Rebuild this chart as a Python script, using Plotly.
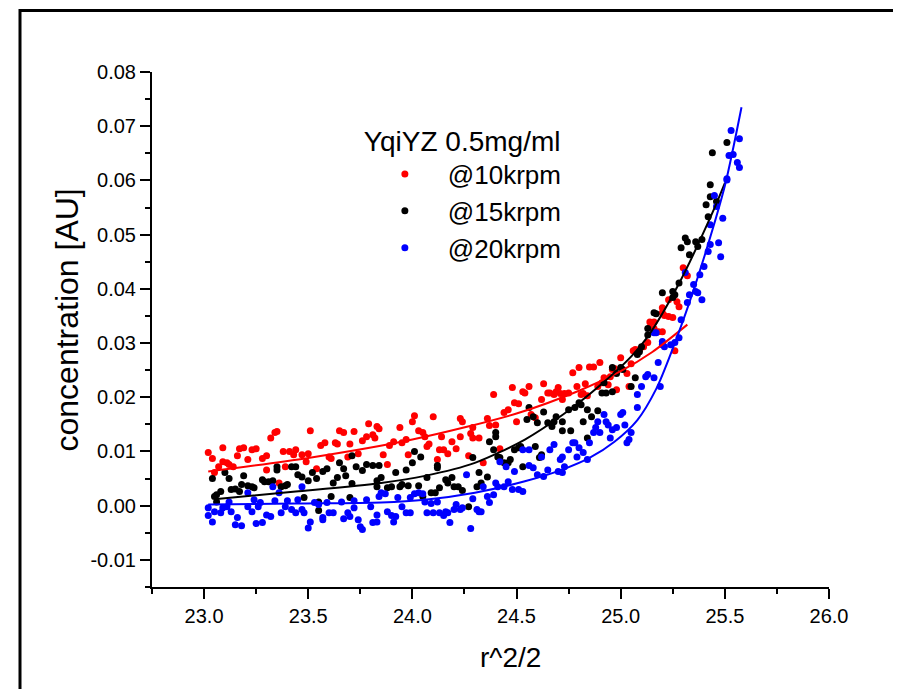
import plotly.graph_objects as go

# ---- data ----
red_x = [23.02,23.04,23.05,23.07,23.09,23.09,23.11,23.12,23.14,23.16,23.17,23.19,23.21,23.23,23.25,23.28,23.30,23.30,23.32,23.34,
         23.35,23.36,23.38,23.39,23.41,23.43,23.44,23.47,23.49,23.50,23.51,23.54,23.56,23.58,23.60,23.61,23.63,23.64,23.65,23.67,
         23.69,23.70,23.72,23.74,23.76,23.78,23.79,23.81,23.82,23.83,23.84,23.86,23.88,23.89,23.91,23.94,23.95,23.97,23.98,24.00,
         24.01,24.03,24.05,24.06,24.07,24.08,24.10,24.12,24.13,24.14,24.15,24.17,24.19,24.21,24.23,24.23,24.24,24.27,24.28,24.29,
         24.29,24.32,24.34,24.36,24.37,24.39,24.40,24.42,24.44,24.46,24.48,24.49,24.50,24.51,24.53,24.54,24.56,24.57,24.59,24.62,
         24.63,24.65,24.66,24.68,24.69,24.70,24.71,24.72,24.73,24.75,24.77,24.79,24.80,24.81,24.82,24.84,24.83,24.85,24.87,24.89,
         24.90,24.91,24.92,24.94,24.95,24.97,24.98,25.00,25.03,25.04,25.05,25.07,25.09,25.11,25.13,25.14,25.16,25.16,25.14,25.18,
         25.20,25.20,25.20,25.21,25.23,25.23,25.25,25.26,25.27,25.28,25.30,25.32,25.06,24.96]
red_y = [0.0098,0.0087,0.0061,0.0072,0.0081,0.0107,0.0079,0.0076,0.0072,0.0092,0.0105,0.0107,0.0085,0.0103,0.0105,0.0087,0.0066,0.0092,0.0125,0.0135,
         0.0137,0.0042,0.0100,0.0072,0.0100,0.0094,0.0103,0.0094,0.0081,0.0096,0.0138,0.0068,0.0111,0.0116,0.0090,0.0087,0.0116,0.0114,0.0138,0.0135,
         0.0090,0.0114,0.0137,0.0096,0.0120,0.0127,0.0151,0.0131,0.0125,0.0146,0.0142,0.0094,0.0076,0.0111,0.0118,0.0144,0.0116,0.0122,0.0094,0.0155,
         0.0166,0.0138,0.0135,0.0127,0.0109,0.0114,0.0164,0.0085,0.0103,0.0127,0.0103,0.0096,0.0118,0.0105,0.0127,0.0161,0.0155,0.0092,0.0133,0.0144,
         0.0125,0.0125,0.0079,0.0161,0.0148,0.0205,0.0149,0.0105,0.0172,0.0177,0.0218,0.0190,0.0155,0.0188,0.0210,0.0208,0.0220,0.0168,0.0162,0.0196,
         0.0225,0.0208,0.0208,0.0205,0.0210,0.0218,0.0207,0.0196,0.0207,0.0208,0.0245,0.0220,0.0255,0.0205,0.0207,0.0203,0.0225,0.0256,0.0256,0.0220,
         0.0264,0.0227,0.0236,0.0223,0.0238,0.0253,0.0214,0.0273,0.0244,0.0220,0.0262,0.0288,0.0288,0.0293,0.0301,0.0328,0.0327,0.0339,0.0339,0.0321,
         0.0365,0.0356,0.0321,0.0351,0.0349,0.0380,0.0347,0.0286,0.0376,0.0367,0.0439,0.0424,0.0286,0.0251]

black_x = [23.04,23.05,23.06,23.06,23.08,23.10,23.12,23.13,23.15,23.17,23.18,23.19,23.21,23.23,23.24,23.28,23.29,23.31,23.33,23.35,
           23.35,23.37,23.39,23.40,23.42,23.44,23.45,23.47,23.48,23.50,23.52,23.54,23.55,23.55,23.57,23.59,23.61,23.62,23.64,23.65,
           23.67,23.68,23.70,23.71,23.71,23.73,23.76,23.78,23.81,23.83,23.84,23.85,23.83,23.88,23.90,23.92,23.94,23.95,23.97,23.98,
           24.00,24.01,24.03,24.04,24.05,24.07,24.09,24.11,24.12,24.12,24.13,24.16,24.17,24.19,24.20,24.22,24.24,24.27,24.29,24.31,
           24.32,24.33,24.36,24.37,24.39,24.40,24.40,24.41,24.42,24.44,24.46,24.47,24.49,24.51,24.52,24.53,24.55,24.56,24.58,24.59,
           24.60,24.61,24.62,24.63,24.65,24.67,24.69,24.72,24.68,24.72,24.75,24.76,24.78,24.80,24.81,24.82,24.84,24.84,24.86,24.89,
           24.91,24.92,24.93,24.96,24.96,24.98,25.00,25.01,25.05,25.07,25.08,25.09,25.10,25.13,25.13,25.16,25.17,25.20,25.25,25.26,
           25.25,25.28,25.29,25.31,25.32,25.33,25.36,25.37,25.39,25.42,25.41,25.43,25.43,25.46,25.44,25.51]
black_y = [0.0050,0.0017,0.0020,0.0007,0.0026,0.0061,0.0050,0.0030,0.0031,0.0026,0.0039,0.0055,0.0037,0.0035,0.0033,0.0048,0.0044,0.0044,0.0046,0.0066,
           0.0072,0.0035,0.0037,0.0039,0.0072,0.0072,0.0057,0.0053,0.0015,0.0046,0.0061,0.0050,0.0007,-0.0009,0.0063,0.0068,0.0017,0.0042,0.0052,0.0079,
           0.0068,0.0055,0.0015,0.0041,0.0092,0.0072,0.0065,0.0076,0.0074,0.0046,0.0074,0.0052,0.0035,0.0033,0.0035,0.0061,0.0035,0.0039,0.0066,0.0037,
           0.0079,0.0100,0.0037,0.0090,0.0017,0.0052,0.0024,0.0024,0.0074,0.0070,0.0033,0.0048,0.0042,0.0052,0.0035,0.0035,0.0028,-0.0002,0.0089,0.0035,
           0.0061,0.0042,0.0053,0.0118,0.0103,0.0127,0.0135,0.0090,0.0089,0.0079,0.0079,0.0085,0.0103,0.0107,0.0109,0.0072,0.0159,0.0181,0.0164,0.0109,
           0.0153,0.0089,0.0094,0.0173,0.0153,0.0146,0.0164,0.0155,0.0155,0.0138,0.0177,0.0138,0.0181,0.0190,0.0186,0.0155,0.0125,0.0177,0.0164,0.0175,
           0.0208,0.0227,0.0208,0.0210,0.0255,0.0244,0.0255,0.0251,0.0220,0.0236,0.0279,0.0284,0.0293,0.0315,0.0327,0.0356,0.0354,0.0393,0.0395,0.0389,
           0.0384,0.0411,0.0476,0.0494,0.0487,0.0463,0.0487,0.0478,0.0491,0.0533,0.0555,0.0570,0.0592,0.0561,0.0651,0.0670]

blue_x = [23.02,23.02,23.04,23.05,23.08,23.09,23.11,23.12,23.13,23.15,23.16,23.18,23.21,23.21,23.23,23.24,23.25,23.26,23.27,23.28,
          23.30,23.32,23.33,23.34,23.36,23.37,23.39,23.40,23.42,23.44,23.45,23.47,23.47,23.48,23.50,23.51,23.53,23.55,23.57,23.57,
          23.59,23.60,23.62,23.66,23.67,23.69,23.70,23.72,23.72,23.74,23.75,23.76,23.78,23.80,23.81,23.83,23.85,23.84,23.83,23.87,
          23.88,23.90,23.91,23.92,23.93,23.95,23.97,23.99,23.99,24.01,24.03,24.05,24.06,24.07,24.09,24.10,24.12,24.13,24.15,24.16,
          24.17,24.18,24.20,24.21,24.23,24.24,24.26,24.28,24.29,24.31,24.32,24.33,24.34,24.36,24.37,24.39,24.40,24.41,24.42,24.44,
          24.45,24.46,24.48,24.49,24.51,24.53,24.53,24.56,24.56,24.58,24.60,24.62,24.63,24.65,24.66,24.68,24.70,24.72,24.72,24.71,
          24.73,24.75,24.77,24.78,24.79,24.80,24.82,24.84,24.85,24.87,24.88,24.89,24.90,24.92,24.93,24.94,24.95,24.96,24.98,25.00,
          25.01,25.02,25.03,25.04,25.05,25.08,25.08,25.10,25.12,25.13,25.16,25.17,25.18,25.19,25.20,25.16,25.20,25.21,25.24,25.26,
          25.28,25.29,25.31,25.32,25.33,25.35,25.36,25.37,25.38,25.39,25.40,25.42,25.43,25.43,25.45,25.46,25.47,25.48,25.49,25.51,
          25.51,25.52,25.53,25.54,25.56,25.57,25.57]
blue_y = [-0.0004,-0.0018,-0.0030,-0.0011,-0.0013,-0.0004,-0.0002,0.0007,-0.0011,-0.0035,-0.0022,-0.0037,-0.0002,0.0024,-0.0011,0.0011,-0.0033,-0.0002,0.0006,-0.0031,
          -0.0017,-0.0020,0.0035,0.0009,0.0024,-0.0013,-0.0002,0.0009,-0.0007,-0.0013,0.0011,0.0035,-0.0007,-0.0013,-0.0041,-0.0030,0.0006,0.0002,-0.0026,-0.0022,
          0.0006,-0.0013,-0.0013,0.0007,-0.0024,-0.0013,-0.0020,-0.0004,0.0009,-0.0026,-0.0039,-0.0044,0.0011,-0.0002,-0.0031,-0.0017,0.0024,0.0017,-0.0030,0.0022,
          -0.0011,-0.0018,-0.0030,-0.0020,0.0015,-0.0002,-0.0013,-0.0013,0.0015,0.0022,0.0024,0.0022,0.0007,-0.0013,0.0004,-0.0013,0.0007,-0.0013,-0.0018,-0.0011,
          -0.0013,-0.0031,-0.0007,0.0002,-0.0007,-0.0004,0.0057,-0.0042,0.0013,-0.0007,-0.0011,-0.0011,0.0035,0.0017,0.0006,0.0020,0.0042,0.0035,0.0081,0.0035,
          0.0072,0.0044,0.0030,0.0063,0.0030,0.0103,0.0026,0.0074,0.0103,0.0070,0.0057,0.0090,0.0054,0.0066,0.0103,0.0113,0.0063,0.0090,0.0061,0.0085,
          0.0072,0.0103,0.0116,0.0116,0.0090,0.0107,0.0098,0.0085,0.0116,0.0135,0.0144,0.0155,0.0135,0.0168,0.0155,0.0149,0.0125,0.0140,0.0144,0.0168,
          0.0172,0.0149,0.0116,0.0122,0.0135,0.0181,0.0205,0.0220,0.0238,0.0242,0.0236,0.0319,0.0264,0.0220,0.0303,0.0319,0.0297,0.0293,0.0297,0.0301,
          0.0310,0.0343,0.0430,0.0375,0.0389,0.0408,0.0395,0.0393,0.0426,0.0380,0.0441,0.0469,0.0482,0.0518,0.0572,0.0552,0.0485,0.0459,0.0530,0.0601,
          0.0603,0.0646,0.0692,0.0648,0.0633,0.0624,0.0677]

# fitted curves
red_fit_x = [23.02,23.50,24.00,24.50,24.80,25.00,25.15,25.32]
red_fit_y = [0.0063,0.0088,0.0122,0.0170,0.0212,0.0248,0.0283,0.0334]
black_fit_x = [23.05,23.44,23.85,24.06,24.30,24.54,24.73,24.91,25.05,25.13,25.28,25.44,25.50]
black_fit_y = [0.0012,0.0026,0.0042,0.0055,0.0079,0.0122,0.0170,0.0225,0.0275,0.0312,0.0410,0.0540,0.0595]
blue_fit_x = [23.02,23.44,23.85,24.06,24.30,24.54,24.73,24.85,24.97,25.08,25.17,25.25,25.33,25.41,25.50,25.58]
blue_fit_y = [0.0002,0.0004,0.0006,0.0011,0.0024,0.0045,0.0068,0.0088,0.0118,0.0158,0.0215,0.0290,0.0375,0.0470,0.0590,0.0735]

x_ticks = [23.0, 23.5, 24.0, 24.5, 25.0, 25.5, 26.0]
x_tick_text = ["23.0", "23.5", "24.0", "24.5", "25.0", "25.5", "26.0"]
y_ticks = [-0.01, 0.00, 0.01, 0.02, 0.03, 0.04, 0.05, 0.06, 0.07, 0.08]
y_tick_text = ["-0.01", "0.00", "0.01", "0.02", "0.03", "0.04", "0.05", "0.06", "0.07", "0.08"]

FONT = "Arial, 'Liberation Sans', sans-serif"

fig = go.Figure()
series = [("@10krpm", red_x, red_y, red_fit_x, red_fit_y, "#ff0000"),
          ("@15krpm", black_x, black_y, black_fit_x, black_fit_y, "#000000"),
          ("@20krpm", blue_x, blue_y, blue_fit_x, blue_fit_y, "#0000ff")]
for name, xs, ys, fx, fy, col in series:
    fig.add_trace(go.Scatter(x=xs, y=ys, mode="markers", name=name,
                             marker=dict(color=col, size=7, line=dict(width=0))))
for name, xs, ys, fx, fy, col in series:
    fig.add_trace(go.Scatter(x=fx, y=fy, mode="lines", showlegend=False,
                             line=dict(color=col, width=2, shape="spline", smoothing=0.8),
                             hoverinfo="skip"))

axis_common = dict(showgrid=False, zeroline=False, showline=True, linecolor="black",
                   linewidth=2, ticks="outside", ticklen=10, tickwidth=2, tickcolor="black",
                   tickfont=dict(family=FONT, size=20, color="black"), mirror=False)

# page body has an 8px margin; plot area is placed so it lands at 152..829 x 72..587 on screen
PL, PT, PW, PH = 152, 72, 677, 515
OFF = 8

fig.update_layout(
    width=893, height=681, autosize=False,
    margin=dict(l=PL - OFF, r=893 - (PL - OFF) - PW, t=PT - OFF, b=681 - (PT - OFF) - PH),
    paper_bgcolor="white", plot_bgcolor="white",
    font=dict(family=FONT, color="black"),
    xaxis=dict(range=[22.75, 26.0], tickvals=x_ticks, ticktext=x_tick_text,
               minor=dict(dtick=0.25, tick0=22.75, ticks="outside", ticklen=5, tickwidth=2, tickcolor="black"),
               **axis_common),
    yaxis=dict(range=[-0.015, 0.08], tickvals=y_ticks, ticktext=y_tick_text,
               minor=dict(dtick=0.005, tick0=-0.015, ticks="outside", ticklen=5, tickwidth=2, tickcolor="black"),
               **axis_common),
    legend=dict(x=0.31, y=0.918, xanchor="left", yanchor="top", bgcolor="rgba(0,0,0,0)",
                font=dict(family=FONT, size=26, color="black"),
                title=dict(text="YqiYZ 0.5mg/ml", font=dict(family=FONT, size=28, color="black")),
                itemwidth=76, tracegroupgap=0),
    showlegend=True,
    annotations=[
        dict(text="r^2/2", xref="paper", yref="paper", x=(510-PL)/PW, y=(PT+PH-657)/PH,
             showarrow=False, xanchor="center", yanchor="middle",
             font=dict(family=FONT, size=28, color="black")),
        dict(text="concentration [AU]", xref="paper", yref="paper", x=(66-PL)/PW, y=(PT+PH-454)/PH,
             showarrow=False, xanchor="center", yanchor="bottom", textangle=-90,
             font=dict(family=FONT, size=32, color="black")),
    ],
    shapes=[dict(type="rect", xref="paper", yref="paper",
                 x0=(20-PL)/PW, x1=(960-PL)/PW, y0=(PT+PH-760)/PH, y1=(PT+PH-10.5)/PH,
                 line=dict(color="black", width=3), fillcolor="rgba(0,0,0,0)", layer="above")],
)

fig.write_html("out.html")
